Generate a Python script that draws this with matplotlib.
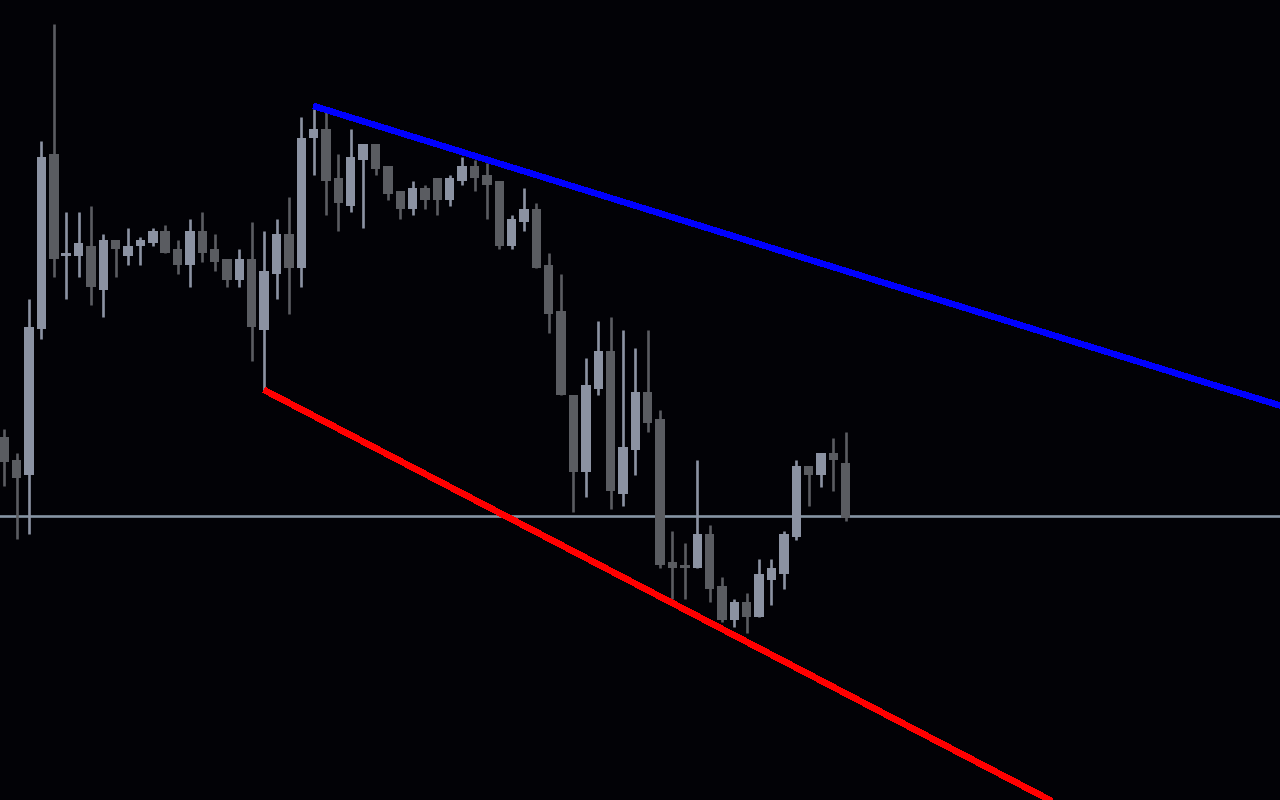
import numpy as np
import matplotlib
matplotlib.use('Agg')
import matplotlib.pyplot as plt

# OHLC (arbitrary price units)
opens = [363, 340, 325, 471, 646, 544, 544, 554, 510, 560, 544, 554, 557, 569, 551, 535, 569, 551, 541, 520,
         541, 470, 526, 566, 532, 662, 671, 622, 594, 640, 656, 634, 609, 591, 612, 622, 600, 619, 634, 625,
         619, 554, 578, 591, 535, 489, 405, 328, 411, 449, 306, 350, 408, 381, 238, 235, 232, 266, 214, 180,
         198, 183, 220, 226, 263, 334, 325, 347, 337]
highs = [371, 347, 501, 659, 776, 588, 588, 594, 566, 560, 572, 563, 572, 575, 560, 581, 588, 566, 541, 551,
         578, 569, 581, 603, 683, 691, 688, 646, 671, 656, 656, 634, 609, 619, 615, 622, 625, 643, 640, 637,
         619, 585, 612, 597, 547, 526, 405, 442, 479, 483, 470, 452, 470, 390, 269, 257, 340, 275, 223, 201,
         207, 241, 241, 269, 340, 334, 347, 362, 368]
lows = [314, 261, 266, 461, 523, 501, 523, 495, 483, 523, 535, 535, 554, 547, 526, 513, 538, 529, 513, 513,
        439, 410, 501, 486, 513, 625, 585, 569, 588, 572, 625, 600, 581, 585, 591, 585, 594, 615, 609, 581,
        551, 551, 569, 532, 467, 405, 288, 303, 405, 291, 294, 325, 368, 232, 201, 201, 232, 198, 178, 173,
        167, 183, 195, 211, 260, 294, 313, 309, 279]
closes = [338, 322, 473, 643, 541, 547, 557, 513, 560, 551, 554, 560, 569, 547, 535, 569, 547, 538, 520, 541,
          473, 529, 566, 532, 662, 671, 619, 597, 643, 656, 631, 606, 591, 612, 600, 600, 622, 634, 622, 615,
          554, 581, 591, 532, 486, 405, 328, 415, 449, 309, 353, 408, 377, 235, 232, 232, 266, 211, 180, 198,
          183, 226, 232, 266, 334, 325, 347, 340, 282]

current_price = 284
# trend lines (bar index, price)
resist_x = [25, 104]
resist_y = [694, 391]
support_x = [21, 104]
support_y = [410, -126]

up_color = '#8b92a2'
down_color = '#5a5c61'
bg = '#020206'

n = len(opens)
idx = np.arange(n)
o = np.array(opens)
c = np.array(closes)
colors = [up_color if cc >= oo else down_color for oo, cc in zip(o, c)]

fig = plt.figure(figsize=(12.8, 8), dpi=100, facecolor=bg)
ax = fig.add_axes([0, 0, 1, 1])
ax.set_facecolor(bg)

ax.axhline(current_price, color='#8594a3', lw=1.9, zorder=1)

ax.vlines(idx, lows, highs, colors=colors, lw=1.9, zorder=2)
bottoms = np.minimum(o, c)
heights = np.maximum(np.abs(c - o), 2.5)
ax.bar(idx, heights, bottom=bottoms, width=0.76, color=colors, linewidth=0, zorder=3)

ax.plot(resist_x, resist_y, color='#0000ff', lw=3.8, solid_capstyle='butt', antialiased=False, zorder=4)
ax.plot(support_x, support_y, color='#ff0000', lw=3.8, solid_capstyle='butt', antialiased=False, zorder=4)

ax.set_xlim(-0.35, 103.1)
ax.set_ylim(0, 800)
ax.axis('off')

fig.savefig('out.png', dpi=100, facecolor=bg)
